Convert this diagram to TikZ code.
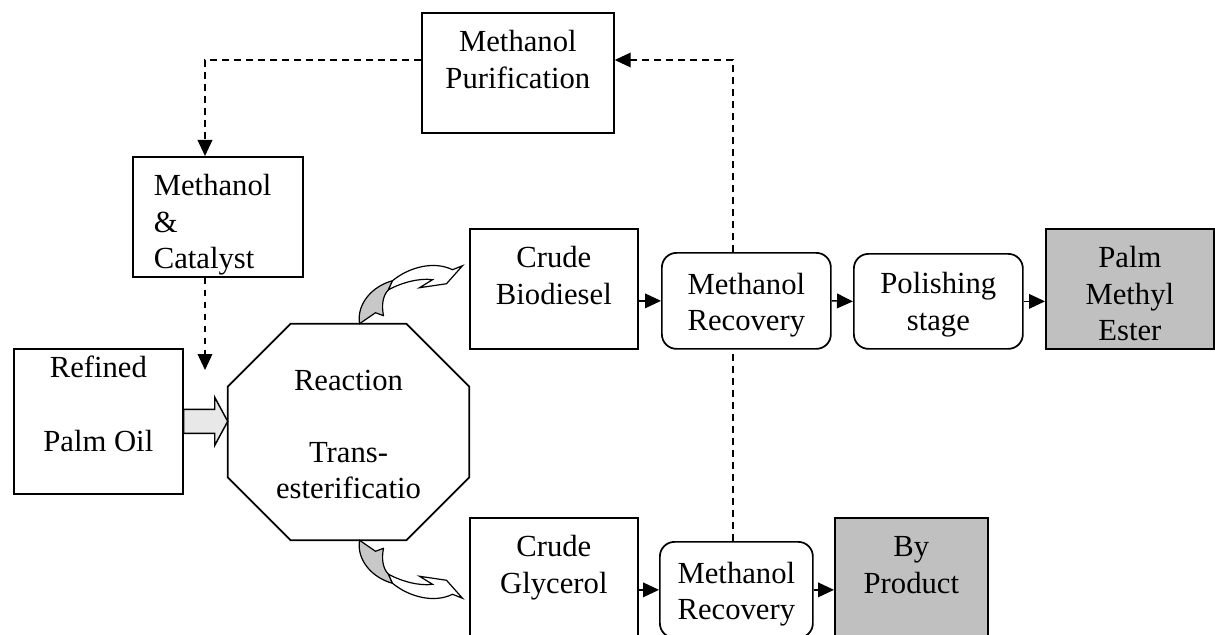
\documentclass[tikz,border=0pt]{standalone}
\usepackage{fontspec}
\setmainfont{Liberation Serif}
\usetikzlibrary{arrows.meta,calc}

\definecolor{prodgray}{RGB}{192,192,192}
\definecolor{feedgray}{RGB}{232,232,232}
\definecolor{twistgray}{RGB}{200,200,200}

\newcommand{\boxlines}[4][29pt]{\parbox[c][#3][t]{#2}{\centering\rule{0pt}{#1}#4}}

\tikzset{
  txt/.style={font=\fontsize{23}{27.5}\selectfont},
  stage/.style={txt, draw, line width=1.3pt, inner sep=0pt, anchor=north west},
  recover/.style={stage, rounded corners=11pt},
  product/.style={stage, fill=prodgray},
  flow/.style={line width=1.1pt, -{Triangle[length=12pt,width=11pt]}},
  recycle/.style={flow, dash pattern=on 5pt off 4pt},
  recycleline/.style={line width=1.1pt, dash pattern=on 5pt off 4pt},
  feed/.style={draw, line width=1.1pt, fill=feedgray, line join=miter},
  twist/.style={draw, line width=0.9pt, fill=twistgray, line join=round},
  ribbon/.style={draw, line width=0.9pt, fill=white, line join=miter}
}

\begin{document}
\begin{tikzpicture}[x=0.75pt,y=0.75pt,yscale=-1,xscale=1]
        \useasboundingbox (0,0) rectangle (1215,635);
        \clip (0,0) rectangle (1215,635);

        % boxes
        \node (purif) [stage] at (421,12) {\boxlines{144pt}{90pt}{Methanol\\Purification}};
        \node (meth) [stage] at (132,156) {\boxlines{127.5pt}{90pt}{\leftskip=15.75pt\rightskip=0pt plus 1fil Methanol\\\&\\Catalyst}};
        \node (oil) [stage] at (13,348) {\boxlines[21.75pt]{126.75pt}{108.75pt}{Refined\\[27.5pt]Palm Oil}};
        \node (react) [txt, inner sep=0pt] at (348.5,432) {\boxlines[50pt]{180.75pt}{162pt}{Reaction\\[26pt]Trans-\\esterificatio}};
        \node (cbd) [stage] at (469,228) {\boxlines{126pt}{90pt}{Crude\\Biodiesel}};
        \node (mrb) [recover] at (661,252) {\boxlines[31pt]{126.75pt}{72pt}{Methanol\\Recovery}};
        \node (pol) [recover] at (853,253) {\boxlines[30pt]{126.75pt}{71.25pt}{Polishing\\stage}};
        \node (pme) [product] at (1045,228) {\boxlines{126pt}{90pt}{Palm\\Methyl\\Ester}};
        \node (cgl) [stage] at (469,517) {\boxlines{126pt}{90pt}{Crude\\Glycerol}};
        \node (mrg) [recover] at (659,541) {\boxlines[31pt]{114.75pt}{72pt}{Methanol\\Recovery}};
        \node (byp) [product] at (834,517) {\boxlines{114.75pt}{90pt}{By\\Product}};

        % reactor outline
        \draw [line width=1.3pt] ($(react.north west)+(63,0)$) -- ($(react.north east)+(-63,0)$) -- ($(react.north east)+(0,63)$) -- ($(react.south east)+(0,-63)$) -- ($(react.south east)+(-63,0)$) -- ($(react.south west)+(63,0)$) -- ($(react.south west)+(0,-63)$) -- ($(react.north west)+(0,63)$) -- cycle;

        % oil feed
        \coordinate (tip) at (oil.east -| react.west);
        \draw [feed] ($(oil.east)+(0,-12)$) -- ($(tip)+(-13,-12)$) -- ($(tip)+(-13,-24)$) -- (tip) -- ($(tip)+(-13,24)$) -- ($(tip)+(-13,12)$) -- ($(oil.east)+(0,12)$) -- cycle;

        % curved outlets
        \begin{scope}[shift={($(react.north)+(11,0)$)}]
        \draw [twist] (0,0) .. controls (-3,-21) and (14,-38) .. (33,-43) -- (29,-34) .. controls (23,-28) and (22,-18) .. (24,-8) -- (16,-11) -- cycle;
        \draw [ribbon] (33,-43) .. controls (50,-57) and (75,-63) .. (93,-54) -- (103,-58) -- (87,-40) -- (60,-36) -- (73,-44) .. controls (60,-46) and (42,-41) .. (29,-34) -- cycle;
        \end{scope}
        \begin{scope}[shift={($(react.south)+(11,0)$)}, yscale=-1]
        \draw [twist] (0,0) .. controls (-3,-21) and (14,-38) .. (33,-43) -- (29,-34) .. controls (23,-28) and (22,-18) .. (24,-8) -- (16,-11) -- cycle;
        \draw [ribbon] (33,-43) .. controls (50,-57) and (75,-63) .. (93,-54) -- (103,-58) -- (87,-40) -- (60,-36) -- (73,-44) .. controls (60,-46) and (42,-41) .. (29,-34) -- cycle;
        \end{scope}

        % process flow
        \draw [flow] (cbd.east |- mrb.west) -- (mrb.west);
        \draw [flow] (mrb.east) -- (pol.west);
        \draw [flow] (pol.east) -- (pol.east -| pme.west);
        \draw [flow] (cgl.east |- mrg.west) -- (mrg.west);
        \draw [flow] (mrg.east) -- (mrg.east -| byp.west);

        % methanol recycle
        \coordinate (up) at (733,60);
        \coordinate (back) at (205,60);
        \coordinate (drop) at (205,370);
        \draw [recycleline] (mrg.north -| up) -- (mrb.south -| up);
        \draw [recycle] (mrb.north -| up) -- (up) -- (up -| purif.east);
        \draw [recycle] (purif.west |- back) -- (back) -- (meth.north -| back);
        \draw [recycle] (meth.south -| back) -- (drop);
\end{tikzpicture}
\end{document}
